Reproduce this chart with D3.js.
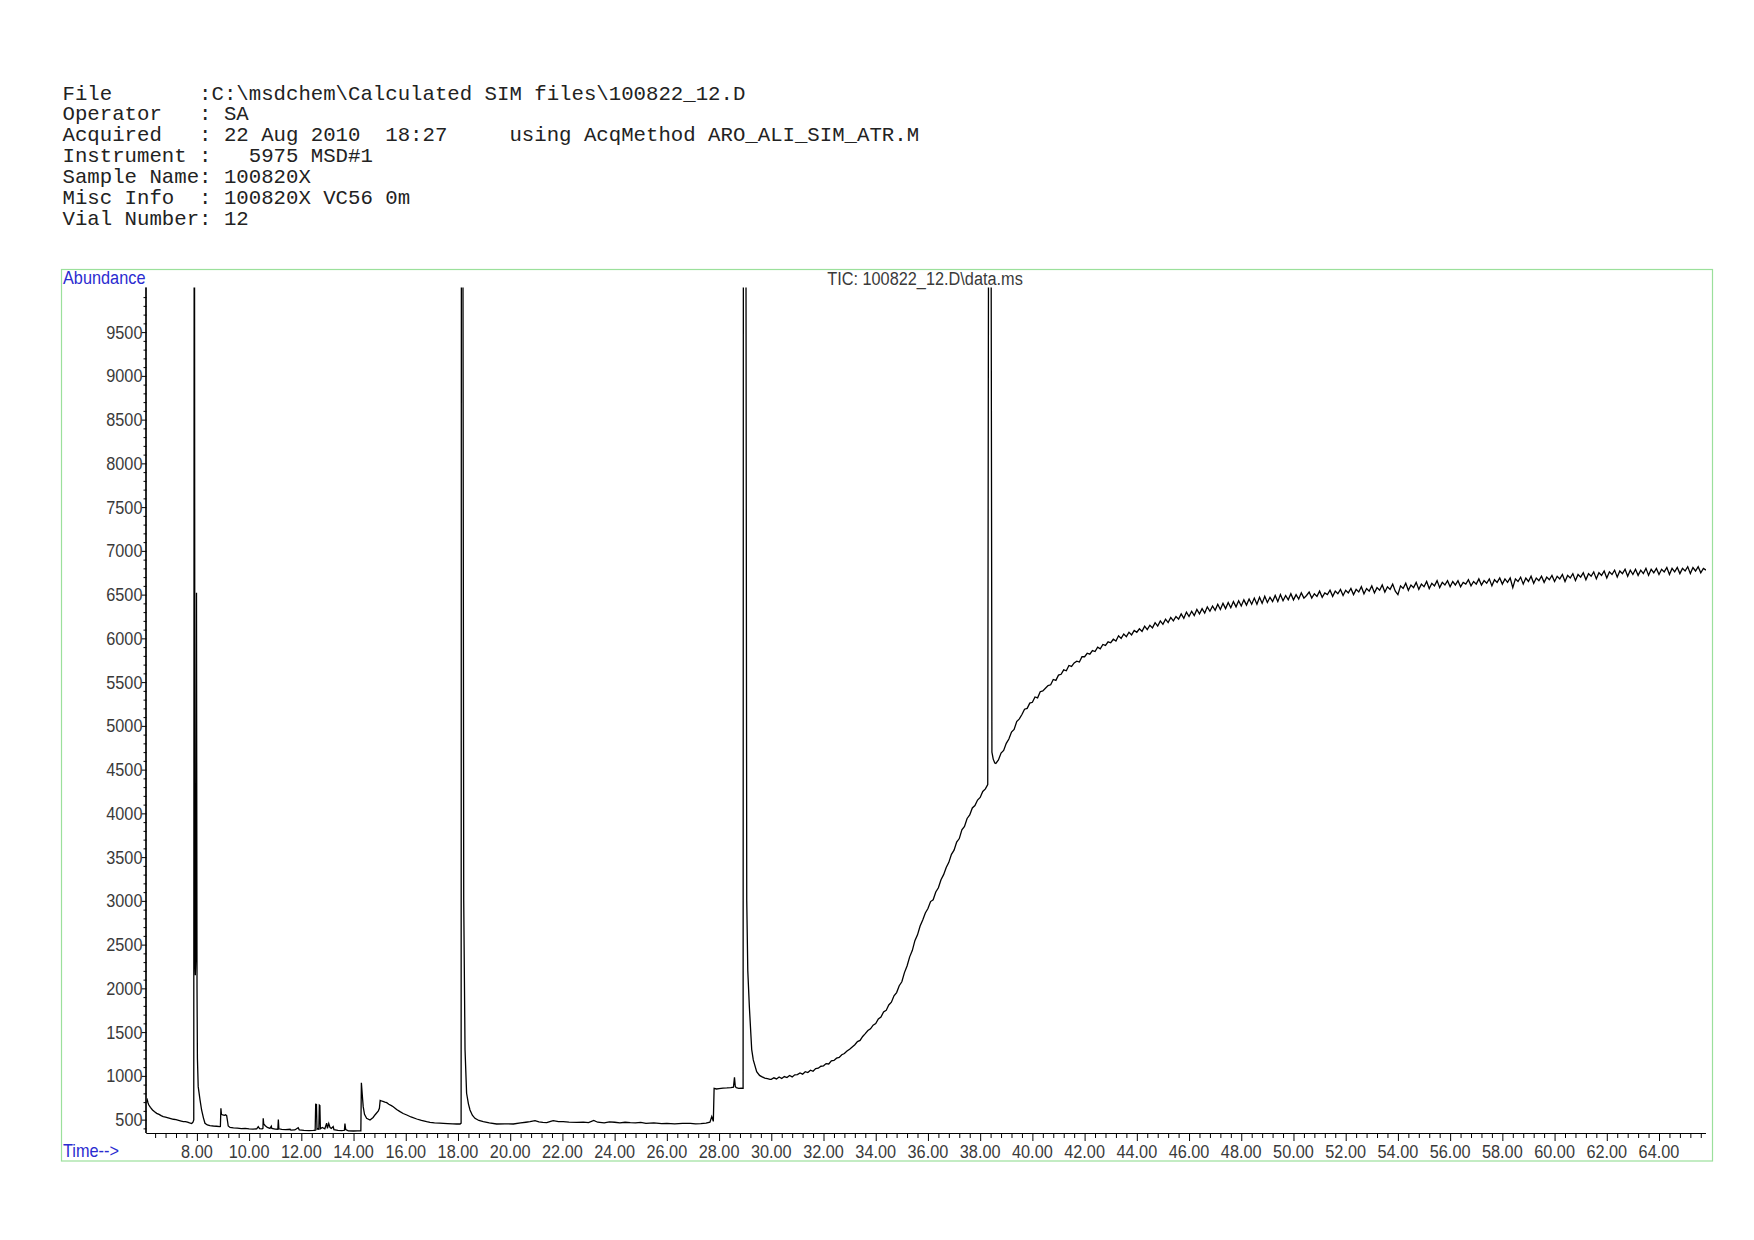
<!DOCTYPE html>
<html><head><meta charset="utf-8">
<script src="https://cdn.jsdelivr.net/npm/d3@7"></script>
<style>
html,body{margin:0;padding:0;background:#fff;}
svg{display:block;}
</style></head>
<body>
<svg id="chart" width="1754" height="1240"></svg>
<script>
// ---------- header text ----------
const headerLines = [
  "File       :C:\\msdchem\\Calculated SIM files\\100822_12.D",
  "Operator   : SA",
  "Acquired   : 22 Aug 2010  18:27     using AcqMethod ARO_ALI_SIM_ATR.M",
  "Instrument :   5975 MSD#1",
  "Sample Name: 100820X",
  "Misc Info  : 100820X VC56 0m",
  "Vial Number: 12"
];
const chartTitle = "TIC: 100822_12.D\\data.ms";
const yAxisTitle = "Abundance";
const xAxisTitle = "Time-->";

// ---------- ticks ----------
const xMajorTicks = [8,10,12,14,16,18,20,22,24,26,28,30,32,34,36,38,40,42,44,46,48,50,52,54,56,58,60,62,64];
const yMajorTicks = [500,1000,1500,2000,2500,3000,3500,4000,4500,5000,5500,6000,6500,7000,7500,8000,8500,9000,9500];

// ---------- TIC trace (time min, abundance) ----------
const traceEarly = [
[6.07,700],[6.10,725],[6.13,690],[6.16,667],[6.22,640],[6.30,610],[6.38,590],[6.46,572],[6.55,560],[6.63,545],
[6.71,534],[6.80,528],[6.90,520],[7.00,512],[7.10,504],[7.20,500],[7.30,492],[7.40,484],[7.48,477],[7.56,478],
[7.64,470],[7.72,462],[7.80,455],[7.85,470],[7.88,496],
[7.895,10500],[7.91,10500],[7.925,2300],[7.94,2150],[7.96,2380],[7.985,6520],[8.005,2000],[8.02,1200],[8.05,877],
[8.12,725],[8.18,610],[8.25,520],[8.31,458],[8.40,439],[8.50,432],[8.63,427],[8.75,424],[8.88,420],[8.90,422],
[8.92,630],[8.94,560],[8.99,553],[9.05,548],[9.10,555],[9.14,545],[9.18,470],[9.20,427],[9.27,410],[9.40,405],
[9.55,402],[9.70,398],[9.85,400],[10.00,394],[10.15,392],[10.29,395],[10.35,420],[10.40,398],[10.50,395],[10.53,400],
[10.54,515],[10.56,450],[10.62,430],[10.70,410],[10.80,400],[10.85,425],[10.87,400],[11.00,392],[11.10,390],[11.12,500],
[11.14,395],[11.25,388],[11.40,385],[11.57,390],[11.60,380],[11.75,382],[11.88,408],[11.92,383],[12.10,378],[12.30,375],
[12.46,376],[12.53,378],[12.55,675],[12.58,672],[12.60,390],[12.65,400],[12.67,385],[12.69,665],[12.71,660],[12.73,395],
[12.80,410],[12.90,395],[12.97,460],[13.00,400],[13.05,455],[13.10,410],[13.15,400],[13.22,420],[13.25,385],[13.40,376],
[13.55,374],[13.65,378],[13.67,455],[13.70,385],[13.80,372],[14.00,370],[14.15,372],[14.28,372],[14.30,922],[14.34,762],
[14.37,648],[14.42,560],[14.50,515],[14.63,496],[14.75,525],[14.82,553],[14.95,600],[14.99,630],[15.02,720],[15.10,710],
[15.20,700],[15.27,694],[15.35,675],[15.45,660],[15.52,648],[15.65,615],[15.78,591],[15.90,570],[16.04,553],[16.20,530],
[16.42,507],[16.60,490],[16.80,476],[16.93,469],[17.10,463],[17.30,460],[17.44,458],[17.60,455],[17.80,452],[17.95,450],
[18.08,450],[18.12,460],[18.13,10500],[18.19,10500],[18.22,3000],[18.27,1300],[18.33,801],[18.40,680],[18.46,610],[18.55,550],
[18.65,515],[18.80,490],[18.97,477],[19.20,462],[19.48,450],[19.80,452],[20.12,450],[20.40,462],[20.60,470],[20.76,477],
[20.95,488],[21.10,475],[21.25,468],[21.40,465],[21.55,480],[21.65,488],[21.85,478],[22.03,477],[22.25,472],[22.55,468],
[22.80,472],[23.00,465],[23.20,490],[23.35,470],[23.60,462],[23.80,475],[24.00,470],[24.20,462],[24.40,470],[24.60,465],
[24.80,462],[25.00,468],[25.20,458],[25.50,462],[25.80,455],[26.00,458],[26.30,452],[26.60,456],[26.90,458],[27.10,452],
[27.30,455],[27.50,460],[27.65,470],[27.72,534],[27.78,480],[27.81,858],[27.90,850],[28.00,855],[28.15,860],[28.30,862],
[28.45,866],[28.55,870],[28.59,984],[28.62,880],[28.66,866],[28.75,858],[28.85,860],[28.92,858],
[28.93,10500],[29.03,10500],[29.06,3000],[29.10,2200],[29.16,1790],[29.25,1300],[29.31,1182],[29.44,1048],[29.55,1005],
[29.63,991],[29.75,975],[29.85,968],[29.95,961]
];

const traceRise = [
[30.0,961],[30.1,978],[30.2,965],[30.3,988],[30.4,970],[30.5,992],[30.6,980],[30.7,1004],[30.8,988],[30.9,1012],
[31.0,1015],[31.1,1034],[31.2,1020],[31.3,1048],[31.4,1038],[31.5,1065],[31.6,1052],[31.7,1084],[31.8,1088],[31.9,1110],
[32.0,1115],[32.1,1140],[32.2,1136],[32.3,1172],[32.4,1176],[32.5,1202],[32.6,1210],[32.7,1242],[32.8,1255],[32.9,1285],
[33.0,1305],[33.1,1330],[33.2,1356],[33.3,1392],[33.4,1405],[33.5,1450],[33.6,1482],[33.7,1518],[33.8,1538],[33.9,1580],
[34.0,1598],[34.1,1650],[34.2,1672],[34.3,1730],[34.4,1748],[34.5,1810],[34.6,1842],[34.7,1915],[34.8,1952],[34.9,2030],
[35.0,2075],[35.1,2180],[35.2,2255],[35.3,2360],[35.4,2432],[35.5,2545],[35.6,2612],[35.7,2712],[35.8,2782],[35.9,2862],
[36.0,2912],[36.1,2992],[36.2,3012],[36.3,3102],[36.4,3150],[36.5,3242],[36.6,3300],[36.7,3382],[36.8,3440],[36.9,3532],
[37.0,3580],[37.1,3672],[37.2,3712],[37.3,3812],[37.4,3850],[37.5,3942],[37.6,3982],[37.7,4062],[37.8,4090],[37.9,4152],
[38.0,4182],[38.1,4250],[38.2,4280],[38.29,4330],
[38.32,10500],[38.42,10500],[38.45,4700],[38.50,4620],[38.56,4575]
];

const tracePlateau = [
[38.6,4570],[38.7,4610],[38.8,4690],[38.9,4720],[39.0,4800],[39.1,4850],[39.2,4930],[39.3,4960],[39.4,5050],[39.5,5080],
[39.6,5130],[39.7,5190],[39.8,5200],[39.9,5260],[40.0,5270],[40.1,5330],[40.2,5320],[40.3,5390],[40.4,5400],[40.5,5430],
[40.6,5460],[40.7,5470],[40.8,5530],[40.9,5520],[41.0,5580],[41.1,5590],[41.2,5640],[41.3,5630],[41.4,5690],[41.5,5680],
[41.6,5720],[41.7,5740],[41.8,5730],[41.9,5790],[42.0,5790],[42.1,5830],[42.2,5820],[42.3,5860],[42.4,5850],[42.5,5900],
[42.6,5880],[42.7,5930],[42.8,5920],[42.9,5960],[43.0,5950],[43.1,5990],[43.2,5970],[43.3,6030],[43.4,6000],[43.5,6050],
[43.6,6020],[43.7,6070],[43.8,6040],[43.9,6090],[44.0,6070],[44.1,6110],[44.2,6080],[44.3,6140],[44.4,6100],[44.5,6150],
[44.6,6120],[44.7,6180],[44.8,6140],[44.9,6200],[45.0,6160],[45.1,6220],[45.2,6180],[45.3,6240],[45.4,6200],[45.5,6250],
[45.6,6220],[45.7,6280],[45.8,6230],[45.9,6300],[46.0,6250],[46.1,6310],[46.2,6260],[46.3,6330],[46.4,6280],[46.5,6340],
[46.6,6290],[46.7,6360],[46.8,6310],[46.9,6370],[47.0,6320],[47.1,6390],[47.2,6330],[47.3,6400],[47.4,6340],[47.5,6410],
[47.6,6350],[47.7,6420],[47.8,6360],[47.9,6430],[48.0,6370],[48.1,6440],[48.2,6380],[48.3,6450],[48.4,6390],[48.5,6460],
[48.6,6390],[48.7,6470],[48.8,6400],[48.9,6480],[49.0,6410],[49.1,6470],[49.2,6420],[49.3,6490],[49.4,6420],[49.5,6500],
[49.6,6430],[49.7,6490],[49.8,6440],[49.9,6510],[50.0,6440],[50.1,6500],[50.2,6450],[50.3,6520],[50.4,6460],[50.5,6490],
[50.6,6530],[50.7,6460],[50.8,6510],[50.9,6480],[51.0,6540],[51.1,6470],[51.2,6520],[51.3,6500],[51.4,6550],[51.5,6480],
[51.6,6540],[51.7,6510],[51.8,6560],[51.9,6490],[52.0,6550],[52.1,6520],[52.2,6570],[52.3,6500],[52.4,6560],[52.5,6530],
[52.6,6590],[52.7,6510],[52.8,6570],[52.9,6540],[53.0,6600],[53.1,6520],[53.2,6580],[53.3,6550],[53.4,6610],[53.5,6530],
[53.6,6590],[53.7,6560],[53.8,6620],[53.9,6540],[54.0,6500],[54.1,6600],[54.2,6570],[54.3,6630],[54.4,6550],[54.5,6610],
[54.6,6580],[54.7,6640],[54.8,6560],[54.9,6620],[55.0,6590],[55.1,6650],[55.2,6570],[55.3,6630],[55.4,6600],[55.5,6660],
[55.6,6580],[55.7,6640],[55.8,6610],[55.9,6660],[56.0,6590],[56.1,6650],[56.2,6610],[56.3,6660],[56.4,6590],[56.5,6640],
[56.6,6620],[56.7,6670],[56.8,6600],[56.9,6650],[57.0,6620],[57.1,6680],[57.2,6610],[57.3,6660],[57.4,6630],[57.5,6680],
[57.6,6600],[57.7,6670],[57.8,6640],[57.9,6690],[58.0,6620],[58.1,6680],[58.2,6640],[58.3,6690],[58.4,6580],[58.5,6680],
[58.6,6650],[58.7,6700],[58.8,6620],[58.9,6690],[59.0,6650],[59.1,6710],[59.2,6630],[59.3,6690],[59.4,6660],[59.5,6710],
[59.6,6640],[59.7,6700],[59.8,6670],[59.9,6720],[60.0,6650],[60.1,6710],[60.2,6680],[60.3,6730],[60.4,6650],[60.5,6720],
[60.6,6690],[60.7,6740],[60.8,6660],[60.9,6730],[61.0,6700],[61.1,6750],[61.2,6670],[61.3,6740],[61.4,6710],[61.5,6760],
[61.6,6680],[61.7,6750],[61.8,6720],[61.9,6770],[62.0,6690],[62.1,6760],[62.2,6730],[62.3,6780],[62.4,6700],[62.5,6770],
[62.6,6740],[62.7,6790],[62.8,6710],[62.9,6780],[63.0,6730],[63.1,6790],[63.2,6720],[63.3,6780],[63.4,6740],[63.5,6800],
[63.6,6720],[63.7,6790],[63.8,6750],[63.9,6800],[64.0,6730],[64.1,6790],[64.2,6760],[64.3,6810],[64.4,6730],[64.5,6800],
[64.6,6760],[64.7,6810],[64.8,6740],[64.9,6800],[65.0,6770],[65.1,6820],[65.2,6740],[65.3,6810],[65.4,6770],[65.5,6820],
[65.6,6750],[65.7,6800],[65.8,6780]
];

const trace = traceEarly.concat(traceRise, tracePlateau);

// ---------- drawing ----------
const svg = d3.select("#chart");
const plot = {left:146.5, right:1706, top:287.5, bottom:1133};
const x = d3.scaleLinear().domain([6.07, 65.8]).range([plot.left, plot.right]);
const y = d3.scaleLinear().domain([347, 10010]).range([plot.bottom, plot.top]);

const SANS = "'Liberation Sans', Arial, sans-serif";
const LABEL_COLOR = "#3a3a3a";
const STRETCH = 1.12;

// header
const hdr = svg.append("g");
headerLines.forEach((line, i) => {
  hdr.append("text")
    .attr("x", 62.5).attr("y", 99.5 + i * 20.9)
    .attr("font-family", "'Liberation Mono', 'Courier New', monospace")
    .attr("font-size", 20.7)
    .attr("fill", "#222")
    .attr("xml:space", "preserve")
    .style("white-space", "pre")
    .text(line);
});

// green frame
svg.append("rect")
  .attr("x", 61.5).attr("y", 269.5)
  .attr("width", 1712.5 - 61.5).attr("height", 1161 - 269.5)
  .attr("fill", "none").attr("stroke", "#9be09b").attr("stroke-width", 1.2);

function stretchedText(g, tx, ty, txt, anchor, color, size) {
  return g.append("text")
    .attr("transform", `translate(${tx},${ty}) scale(1,${STRETCH})`)
    .attr("text-anchor", anchor)
    .attr("font-family", SANS)
    .attr("font-size", size)
    .attr("fill", color)
    .text(txt);
}

const labels = svg.append("g");
stretchedText(labels, 63, 284, yAxisTitle, "start", "#2b2bd0", 16.3);
stretchedText(labels, 63, 1157, xAxisTitle, "start", "#2b2bd0", 16.3);
stretchedText(labels, 925, 285, chartTitle, "middle", LABEL_COLOR, 16.3);

// trace (clipped to plot area)
svg.append("clipPath").attr("id", "plotclip")
  .append("rect")
  .attr("x", plot.left).attr("y", plot.top)
  .attr("width", plot.right - plot.left).attr("height", plot.bottom - plot.top);

const line = d3.line().x(d => x(d[0])).y(d => y(d[1]));
svg.append("path")
  .datum(trace)
  .attr("clip-path", "url(#plotclip)")
  .attr("d", line)
  .attr("fill", "none")
  .attr("stroke", "#000")
  .attr("stroke-width", 1.3)
  .attr("stroke-linejoin", "miter");

// x axis
const xMinor = d3.range(6.4, 65.81, 0.4).filter(v => Math.abs(v / 2 - Math.round(v / 2)) > 0.01);
const xAxisMinor = d3.axisBottom(x).tickValues(xMinor).tickSize(5).tickFormat("");
const xAxisMajor = d3.axisBottom(x).tickValues(xMajorTicks).tickSize(8).tickFormat(d3.format(".2f")).tickPadding(4);

const gxm = svg.append("g").attr("transform", `translate(0,${plot.bottom})`).call(xAxisMinor);
const gx = svg.append("g").attr("transform", `translate(0,${plot.bottom})`).call(xAxisMajor);
[gxm, gx].forEach(g => {
  g.select(".domain").attr("stroke", "#000").attr("stroke-width", 1.2)
    .attr("d", `M${plot.left},0.5H${plot.right}`);
  g.selectAll(".tick line").attr("stroke", "#000").attr("stroke-width", 1);
});
gx.selectAll(".tick text").remove();
xMajorTicks.forEach(t => {
  stretchedText(gx, x(t), 25, d3.format(".2f")(t), "middle", LABEL_COLOR, 16.3);
});

// y axis
const yMinor = d3.range(400, 10001, 100).filter(v => v % 500 !== 0);
const yAxisMinor = d3.axisLeft(y).tickValues(yMinor).tickSize(3).tickFormat("");
const yAxisMajor = d3.axisLeft(y).tickValues(yMajorTicks).tickSize(5).tickFormat(d3.format("d"));
const gym = svg.append("g").attr("transform", `translate(${plot.left},0)`).call(yAxisMinor);
const gy = svg.append("g").attr("transform", `translate(${plot.left},0)`).call(yAxisMajor);
[gym, gy].forEach(g => {
  g.select(".domain").attr("stroke", "#000").attr("stroke-width", 1.2)
    .attr("d", `M-0.5,${plot.top}V${plot.bottom}`);
  g.selectAll(".tick line").attr("stroke", "#000").attr("stroke-width", 1);
});
gy.selectAll(".tick text").remove();
yMajorTicks.forEach(v => {
  stretchedText(gy, -4, y(v) + 6.5, String(v), "end", LABEL_COLOR, 16.3);
});
</script>
</body></html>
